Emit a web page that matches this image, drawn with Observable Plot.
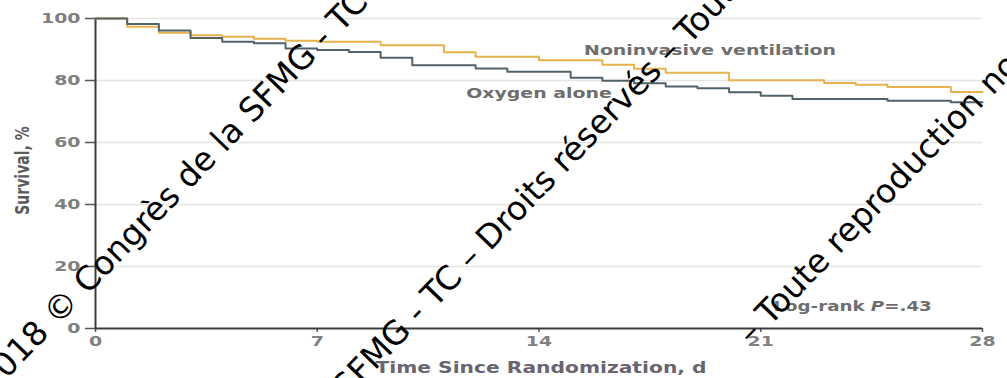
<!DOCTYPE html>
<html>
<head>
<meta charset="utf-8">
<script src="https://cdn.jsdelivr.net/npm/d3@7"></script>
<script src="https://cdn.jsdelivr.net/npm/@observablehq/plot@0.6"></script>
<style>
  html, body { margin: 0; padding: 0; background: #fff; }
  #wrap { position: relative; width: 1007px; height: 378px; overflow: hidden; background: #fff; }
  #wrap > svg { position: absolute; left: 0; top: 0; }
</style>
</head>
<body>
<div id="wrap"></div>
<script>
// Kaplan-Meier survival, noninvasive ventilation vs oxygen alone (step points: day, survival %)
const nivDays = [0, 1, 2, 3, 4, 5, 6, 7, 9, 11, 12, 14, 16, 17, 18, 20, 23, 24, 25, 27, 28];
const nivSurvival = [100, 97.3, 95.4, 94.6, 94.1, 93.5, 92.8, 92.5, 91.4, 89.1, 87.7, 86.5, 85.1, 83.8, 82.5, 80.1, 79.2, 78.6, 77.9, 76.3, 76.3];

const oxyDays = [0, 1, 2, 3, 4, 5, 6, 7, 8, 9, 10, 12, 13, 15, 16, 17, 18, 19, 20, 21, 22, 25, 27, 28];
const oxySurvival = [100, 98.2, 96.1, 93.7, 92.5, 92.0, 90.3, 89.8, 89.2, 87.3, 84.9, 83.9, 82.8, 80.9, 79.9, 79.1, 78.1, 77.5, 76.2, 75.1, 74.0, 73.5, 73.0, 73.0];

const xTicks = [0, 7, 14, 21, 28];
const yTicks = [0, 20, 40, 60, 80, 100];
const gridTicks = [20, 40, 60, 80, 100];

const seriesNames = ["Noninvasive ventilation", "Oxygen alone"];
const testLabel = "Log-rank P=.43";
const xTitle = "Time Since Randomization, d";
const yTitle = "Survival, %";
const watermarkFull = "2018 © Congrès de la SFMG - TC – Droits réservés – Toute reproduction non autorisée";
const watermarkTail = "– Toute reproduction non autorisée";

const nivColor = "#e7b24c";
const oxyColor = "#52626a";
const labelGray = "#6e6e6e";
const stretchX = 1.35;

const chart = Plot.plot({
  width: 1007,
  height: 378,
  marginLeft: 95,
  marginRight: 25,
  marginTop: 18,
  marginBottom: 50,
  style: { fontFamily: "'DejaVu Sans', sans-serif", background: "#fff", overflow: "visible" },
  x: { domain: [0, 28] },
  y: { domain: [0, 100] },
  marks: [
    Plot.gridY(gridTicks, { stroke: "#e4e4e4", strokeOpacity: 1, strokeWidth: 1.5 }),
    Plot.axisY(yTicks, {
      tickSize: 10, tickPadding: 5, fontSize: 14, fontWeight: "bold",
      fill: "#808080", stroke: "#555", strokeWidth: 1.5, label: null
    }),
    Plot.axisX(xTicks, {
      tickSize: 4, tickPadding: 4, fontSize: 14, fontWeight: "bold",
      fill: "#808080", stroke: "#555", strokeWidth: 1.5, label: null
    }),
    Plot.ruleX([0], { y1: 0, y2: 100, stroke: "#3c3c3c", strokeWidth: 2 }),
    Plot.ruleY([0], { stroke: "#3c3c3c", strokeWidth: 2 }),
    Plot.line(nivDays, { x: nivDays, y: nivSurvival, curve: "step-after", stroke: nivColor, strokeWidth: 2 }),
    Plot.line(oxyDays, { x: oxyDays, y: oxySurvival, curve: "step-after", stroke: oxyColor, strokeWidth: 2 }),
    Plot.text([seriesNames[0]], { x: 19.4, y: 89.8, fontSize: 14, fontWeight: "bold", fill: labelGray }),
    Plot.text([seriesNames[1]], { x: 14.0, y: 75.9, fontSize: 14, fontWeight: "bold", fill: labelGray }),
    Plot.text([testLabel], { x: 23.9, y: 6.9, fontSize: 13.5, fontWeight: "bold", fill: labelGray }),
    Plot.text([yTitle], {
      frameAnchor: "left", rotate: -90, dx: -73, dy: -3, textAnchor: "middle", lineAnchor: "middle",
      fontSize: 14, fontWeight: "bold", fill: "#5a5a5a"
    }),
    Plot.text([xTitle], {
      frameAnchor: "bottom", dy: 40, dx: 2, textAnchor: "middle", lineAnchor: "middle",
      fontSize: 15, fontWeight: "bold", fill: "#6a6470"
    })
  ]
});

const wrap = document.getElementById("wrap");
wrap.appendChild(chart);

// italic P in the log-rank annotation
d3.select(chart).selectAll("text").each(function () {
  if (this.textContent === testLabel) {
    const t = d3.select(this);
    t.text(null);
    t.append("tspan").text("Log-rank ");
    t.append("tspan").attr("font-style", "italic").text("P");
    t.append("tspan").text("=.43");
  }
});

// the chart's typeface is set wide: stretch every label horizontally on screen
d3.select(chart).selectAll("text").each(function () {
  const tr = this.getAttribute("transform") || "";
  if (tr.includes("rotate")) {
    // rotated titles: widen across the glyphs instead (local y maps to screen x)
    this.setAttribute("transform", tr + ` scale(1,${stretchX})`);
    return;
  }
  const len = this.getComputedTextLength();
  this.setAttribute("textLength", (len * stretchX).toFixed(1));
  this.setAttribute("lengthAdjust", "spacingAndGlyphs");
});

// diagonal copyright watermark laid over the chart
const overlay = d3.select(wrap).append("svg")
  .attr("width", 1007).attr("height", 378)
  .style("pointer-events", "none");

const wmLines = [
  { text: watermarkFull, key: "Congrès", cx: 128, cy: 240 },
  { text: watermarkFull, key: "Droits", cx: 517, cy: 210 },
  { text: watermarkTail, key: "Toute", cx: 794, cy: 288 }
];

wmLines.forEach(({ text, key, cx, cy }) => {
  const g = overlay.append("g").attr("transform", `translate(${cx},${cy}) rotate(-46)`);
  const t = g.append("text")
    .attr("font-family", "'DejaVu Sans', sans-serif")
    .attr("font-size", 33)
    .attr("fill", "#000")
    .attr("dominant-baseline", "middle")
    .text(text);
  const node = t.node();
  const i = text.indexOf(key);
  const before = i > 0 ? node.getSubStringLength(0, i) : 0;
  const half = node.getSubStringLength(i, key.length) / 2;
  t.attr("x", -(before + half));
});
</script>
</body>
</html>
